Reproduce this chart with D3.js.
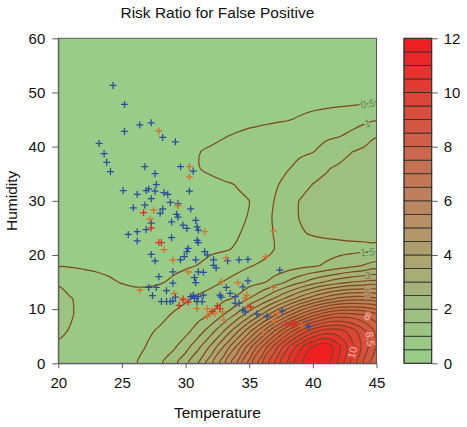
<!DOCTYPE html>
<html><head><meta charset="utf-8">
<script src="https://cdn.jsdelivr.net/npm/d3@7"></script>
<style>
body{margin:0;background:#fff;}
text{font-family:"Liberation Sans",Arial,Helvetica,sans-serif;}
</style></head><body>
<svg id="chart" width="467" height="427"></svg>
<script>
// ---------------- DATA ----------------
const chartTitle = "Risk Ratio for False Positive";
const xTitle = "Temperature";
const yTitle = "Humidity";
const temperatureCols = [20,21,22,23,24,25,26,27,28,29,30,31,32,33,34,35,36,37,38,39,40,41,42,43,44,45];
const humidityRows = [0,3,6,9,12,15,18,21,24,27,30,33,36,39,42,45,48,51,54,57,60];
// estimated risk ratio, one row per humidity value, one column per temperature value
const riskGrid = [
 [0.80,0.78,0.76,0.75,0.76,0.84,0.96,1.15,1.43,1.82,2.34,3.02,3.87,4.87,6.01,7.21,8.42,9.56,10.6,11.4,11.9,11.8,10.9,9.9,8.9,8.0],
 [0.95,0.90,0.85,0.80,0.80,0.80,0.85,1.03,1.17,1.40,1.81,2.39,3.12,4.04,5.09,6.30,7.52,8.75,9.9,10.9,11.6,11.9,11.2,10.2,9.3,8.45],
 [1.05,0.98,0.90,0.83,0.80,0.80,0.83,0.93,1.06,1.20,1.34,1.74,2.28,2.98,3.83,4.81,5.88,7.00,8.07,9.03,9.8,10.2,10.2,9.8,9.1,8.35],
 [1.10,1.02,0.92,0.85,0.78,0.73,0.72,0.78,0.88,1.03,1.17,1.30,1.53,2.00,2.57,3.27,4.04,4.89,5.76,6.58,7.30,7.85,8.17,8.15,8.00,7.65],
 [1.08,1.01,0.92,0.83,0.75,0.68,0.62,0.64,0.70,0.82,0.93,1.08,1.23,1.38,1.56,2.00,2.48,3.03,3.61,4.20,4.75,5.21,5.55,5.74,5.74,5.55],
 [0.97,0.85,0.72,0.63,0.55,0.48,0.45,0.44,0.47,0.55,0.64,0.74,0.86,1.02,1.16,1.29,1.42,1.70,2.05,2.40,2.75,3.05,3.30,3.50,3.60,3.65],
 [0.46,0.46,0.44,0.42,0.40,0.38,0.37,0.37,0.39,0.42,0.46,0.51,0.62,0.73,0.85,0.97,1.07,1.16,1.25,1.35,1.44,1.56,1.72,1.88,2.04,2.20],
 [0.30,0.30,0.30,0.30,0.30,0.30,0.31,0.32,0.33,0.35,0.38,0.41,0.44,0.47,0.53,0.69,0.84,1.01,1.13,1.22,1.28,1.32,1.35,1.37,1.38,1.38],
 [0.30,0.30,0.30,0.30,0.30,0.30,0.30,0.30,0.30,0.33,0.35,0.38,0.41,0.44,0.47,0.57,0.80,1.03,1.24,1.46,1.54,1.58,1.60,1.62,1.63,1.65],
 [0.30,0.30,0.30,0.30,0.30,0.30,0.30,0.30,0.30,0.31,0.33,0.36,0.39,0.43,0.46,0.51,0.78,1.06,1.35,1.52,1.57,1.62,1.66,1.71,1.75,1.80],
 [0.30,0.30,0.30,0.30,0.30,0.30,0.30,0.30,0.30,0.30,0.32,0.35,0.38,0.42,0.455,0.496,0.74,1.015,1.31,1.52,1.57,1.63,1.68,1.74,1.79,1.85],
 [0.30,0.30,0.30,0.30,0.30,0.30,0.30,0.30,0.30,0.32,0.35,0.38,0.42,0.46,0.51,0.66,0.80,0.94,1.125,1.33,1.51,1.58,1.65,1.71,1.78,1.85],
 [0.30,0.30,0.30,0.30,0.30,0.30,0.30,0.30,0.34,0.38,0.44,0.49,0.56,0.63,0.70,0.77,0.83,0.90,0.97,1.11,1.29,1.46,1.56,1.64,1.72,1.80],
 [0.30,0.30,0.30,0.30,0.30,0.30,0.30,0.30,0.33,0.36,0.42,0.49,0.545,0.60,0.66,0.71,0.77,0.83,0.88,0.94,0.99,1.16,1.33,1.49,1.60,1.70],
 [0.30,0.30,0.30,0.30,0.30,0.30,0.30,0.30,0.30,0.32,0.34,0.38,0.43,0.48,0.53,0.59,0.64,0.70,0.75,0.81,0.86,0.92,0.97,1.09,1.28,1.47],
 [0.30,0.30,0.30,0.30,0.30,0.30,0.30,0.30,0.30,0.30,0.33,0.34,0.35,0.36,0.38,0.40,0.42,0.45,0.48,0.54,0.61,0.68,0.75,0.81,0.88,0.95],
 [0.30,0.30,0.30,0.30,0.30,0.30,0.30,0.30,0.30,0.30,0.30,0.31,0.31,0.32,0.33,0.34,0.35,0.36,0.37,0.38,0.40,0.41,0.43,0.45,0.48,0.51],
 [0.30,0.30,0.30,0.30,0.30,0.30,0.30,0.30,0.30,0.30,0.30,0.30,0.30,0.30,0.30,0.30,0.30,0.30,0.30,0.31,0.32,0.34,0.35,0.37,0.39,0.42],
 [0.30,0.30,0.30,0.30,0.30,0.30,0.30,0.30,0.30,0.30,0.30,0.30,0.30,0.30,0.30,0.30,0.30,0.30,0.30,0.30,0.30,0.30,0.30,0.30,0.30,0.30],
 [0.30,0.30,0.30,0.30,0.30,0.30,0.30,0.30,0.30,0.30,0.30,0.30,0.30,0.30,0.30,0.30,0.30,0.30,0.30,0.30,0.30,0.30,0.30,0.30,0.30,0.30],
 [0.30,0.30,0.30,0.30,0.30,0.30,0.30,0.30,0.30,0.30,0.30,0.30,0.30,0.30,0.30,0.30,0.30,0.30,0.30,0.30,0.30,0.30,0.30,0.30,0.30,0.30]
];
const riskBreaks = [0,0.5,1,1.5,2,2.5,3,3.5,4,4.5,5,5.5,6,6.5,7,7.5,8,8.5,9,9.5,10,10.5,11,11.5,12];
const colorbarTicks = [0,2,4,6,8,10,12];
const temperatureTicks = [20,25,30,35,40,45];
const humidityTicks = [0,10,20,30,40,50,60];
// contour labels shown on the right side / near the peak
const edgeLabelLevels = [0.5,1,1.5,3,5,8];
const peakLabelLevels = [8.5,10];

// observations: [temperature, humidity]
const negativePoints = [
 [24.3,51.3],[25.2,47.8],[25.2,42.8],[26.4,44.0],[27.3,44.4],[28.2,41.7],[29.2,40.9],[23.2,40.6],[23.6,38.7],[23.8,37.1],
 [24.1,35.4],[26.8,36.3],[27.6,35.0],[29.6,36.3],[30.6,35.5],[27.7,33.0],[25.1,31.9],[26.2,31.2],[26.9,31.9],[27.1,32.2],
 [27.6,31.8],[28.3,31.5],[28.6,31.2],[30.3,31.8],[27.3,30.4],[25.9,28.7],[26.8,29.2],[28.2,28.5],[28.0,27.7],[28.8,29.7],
 [29.4,29.5],[30.4,28.5],[29.3,27.5],[29.4,27.0],[30.8,26.4],[27.3,25.9],[28.9,26.1],[29.8,25.5],[30.1,24.9],[30.9,25.2],
 [31.0,24.6],[25.5,23.8],[26.2,24.3],[26.2,22.6],[26.9,24.7],[28.9,23.2],[30.9,22.7],[31.0,22.3],[30.2,21.2],[30.1,20.6],
 [31.5,20.6],[31.7,20.0],[27.3,20.1],[27.6,18.9],[29.6,19.1],[29.9,19.7],[30.8,19.1],[32.2,18.1],[32.4,17.6],[29.0,16.9],
 [31.0,16.9],[31.4,16.8],[30.7,15.8],[27.9,16.0],[29.0,14.8],[30.8,14.9],[27.1,14.0],[27.7,14.0],[28.5,13.4],[27.4,12.5],
 [29.2,12.2],[28.1,11.4],[28.5,11.4],[28.8,11.4],[29.0,11.5],[30.4,12.3],[30.6,12.6],[30.7,12.0],[31.0,12.3],[31.4,12.6],
 [31.3,11.4],[30.9,11.4],[32.7,12.6],[32.8,12.2],[33.5,12.9],[33.9,12.3],[34.2,11.1],[33.9,11.1],[34.5,9.8],[34.7,9.5],
 [33.2,14.0],[34.9,15.2],[34.5,14.1],[32.2,19.1],[33.3,18.9],[34.2,19.1],[34.9,19.2],[37.4,17.2],[35.6,9.1],[36.4,8.7],
 [37.6,9.7],[39.7,6.8]
];
const positivePoints = [
 [27.9,42.9],[30.3,36.3],[30.3,34.4],[27.5,28.3],[29.4,29.1],[27.2,26.6],[31.5,24.3],[28.3,21.0],[29.0,19.1],[30.2,16.9],
 [26.4,13.5],[29.1,12.9],[29.8,12.0],[30.9,10.1],[31.7,10.1],[31.9,9.2],[32.3,9.2],[33.0,8.0],[34.9,10.4],[32.8,15.1],
 [34.1,14.9],[34.8,12.6],[34.7,12.0],[36.9,14.0],[33.2,19.4],[36.3,19.7],[36.9,24.5],[37.2,9.2],[37.0,7.9],[36.1,5.8],
 [39.1,6.9],[31.7,8.7],[32.9,9.5]
];
const strongPositivePoints = [
 [26.7,27.8],[27.3,25.0],[27.9,22.3],[28.1,22.3],[29.5,10.7],[32.5,10.6],[32.7,10.1],[35.1,10.4],[37.9,7.2],[38.4,7.4],
 [38.6,7.3],[29.8,11.7],[30.2,11.3],[32.1,9.6]
];

// ---------------- LAYOUT / STYLE ----------------
const svg = d3.select("#chart");
const plot = {left:58.3, right:376.5, top:38.3, bottom:363.3};
const bar = {left:404, right:431.7};
const x = d3.scaleLinear().domain([temperatureTicks[0], temperatureTicks[temperatureTicks.length-1]]).range([plot.left, plot.right]);
const y = d3.scaleLinear().domain([humidityTicks[0], humidityTicks[humidityTicks.length-1]]).range([plot.bottom, plot.top]);
const cScale = d3.scaleLinear().domain([riskBreaks[0], riskBreaks[riskBreaks.length-1]]).range([plot.bottom, plot.top]);
const nBands = riskBreaks.length - 1;
const colorInterp = d3.interpolateRgb("#98cc88", "#ee2024");
const bandColor = k => colorInterp(Math.pow(k / (nBands - 1), 1.25));
const lineColor = "#7e4518";
const fontStack = '"Liberation Sans",Arial,Helvetica,sans-serif';

svg.append("rect").attr("width",467).attr("height",427).attr("fill","#fff");

svg.append("defs").append("clipPath").attr("id","plotClip")
  .append("rect").attr("x",plot.left).attr("y",plot.top)
  .attr("width",plot.right-plot.left).attr("height",plot.bottom-plot.top);

const gPlot = svg.append("g").attr("clip-path","url(#plotClip)");
gPlot.append("rect").attr("x",plot.left).attr("y",plot.top)
  .attr("width",plot.right-plot.left).attr("height",plot.bottom-plot.top)
  .attr("fill", bandColor(0));

// ---------------- CONTOURS ----------------
const nCols = temperatureCols.length, nRows = humidityRows.length;
const tStep = temperatureCols[1]-temperatureCols[0];
const hStep = humidityRows[1]-humidityRows[0];
const thresholds = riskBreaks.slice(1, -1);
const contourSets = d3.contours().size([nCols, nRows]).thresholds(thresholds)(riskGrid.flat());
const gx = c => x(temperatureCols[0] + (c - 0.5) * tStep);
const gy = r => y(humidityRows[0] + (r - 0.5) * hStep);
const ringLine = d3.line().x(p => gx(p[0])).y(p => gy(p[1])).curve(d3.curveCatmullRomClosed.alpha(0.5));
const geomPath = g => g.coordinates.map(poly => poly.map(ring => ringLine(ring.slice(0, -1))).join("")).join("");

contourSets.forEach((c, i) => {
  gPlot.append("path").attr("d", geomPath(c)).attr("fill", bandColor(i + 1)).attr("fill-rule","evenodd").attr("stroke","none");
});
contourSets.forEach(c => {
  gPlot.append("path").attr("d", geomPath(c)).attr("fill","none")
    .attr("stroke", lineColor).attr("stroke-width", 1.2).attr("stroke-linejoin","round");
});

// ---------------- CONTOUR LABELS ----------------
function fieldAt(T, Hm) {
  T = Math.max(temperatureCols[0], Math.min(temperatureCols[nCols-1], T));
  Hm = Math.max(humidityRows[0], Math.min(humidityRows[nRows-1], Hm));
  const fx = (T - temperatureCols[0]) / tStep, fy = (Hm - humidityRows[0]) / hStep;
  const i = Math.min(nCols - 2, Math.floor(fx)), j = Math.min(nRows - 2, Math.floor(fy));
  const u = fx - i, v = fy - j, g = riskGrid;
  return g[j][i]*(1-u)*(1-v) + g[j][i+1]*u*(1-v) + g[j+1][i]*(1-u)*v + g[j+1][i+1]*u*v;
}
function crossColumn(level, T, fromTop) {
  const hs = d3.range(humidityRows[0], humidityRows[nRows-1] + 1e-6, 0.05);
  if (fromTop) hs.reverse();
  let prev = fieldAt(T, hs[0]) - level;
  for (let k = 1; k < hs.length; k++) {
    const cur = fieldAt(T, hs[k]) - level;
    if ((prev < 0) !== (cur < 0)) return hs[k];
    prev = cur;
  }
  return null;
}
function crossRow(level, Hm) {
  const ts = d3.range(temperatureCols[0], temperatureCols[nCols-1] + 1e-6, 0.05).reverse();
  let prev = fieldAt(ts[0], Hm) - level;
  for (let k = 1; k < ts.length; k++) {
    const cur = fieldAt(ts[k], Hm) - level;
    if ((prev < 0) !== (cur < 0)) return ts[k];
    prev = cur;
  }
  return null;
}
function tangentAngle(T, Hm) {
  const d = 0.3, e = 0.6;
  const fx = (fieldAt(T+d,Hm) - fieldAt(T-d,Hm)) / (x(T+d) - x(T-d));
  const fy = (fieldAt(T,Hm+e) - fieldAt(T,Hm-e)) / (y(Hm+e) - y(Hm-e));
  let a = Math.atan2(-fx, fy) * 180 / Math.PI;
  if (a > 90) a -= 180;
  if (a < -90) a += 180;
  return a;
}
const labelSpots = [];
const edgeT = 44.3;
edgeLabelLevels.forEach(lv => {
  const h = crossColumn(lv, edgeT, lv <= 1);
  if (h !== null) labelSpots.push({lv, T: edgeT, H: h});
});
peakLabelLevels.forEach((lv, k) => {
  const hRow = k === 0 ? 4.5 : 2;
  const t = crossRow(lv, hRow);
  if (t !== null) labelSpots.push({lv, T: Math.min(t, 44.5), H: hRow});
});
const gLab = svg.append("g").attr("clip-path","url(#plotClip)");
labelSpots.forEach(s => {
  const v = fieldAt(s.T, s.H);
  const k = Math.max(0, Math.min(nBands-1, Math.floor(v / (riskBreaks[1]-riskBreaks[0]))));
  const fill = s.lv < 2 ? "#5a8a52" : (s.lv < 6 ? "#8d6a52" : "#f3b9a8");
  gLab.append("text")
    .attr("transform", `translate(${x(s.T)},${y(s.H)}) rotate(${tangentAngle(s.T, s.H)})`)
    .attr("text-anchor","middle").attr("dy","0.35em")
    .attr("font-size", 10.5).attr("fill", fill)
    .attr("stroke", bandColor(k)).attr("stroke-width", 2.6).attr("paint-order","stroke")
    .text(String(s.lv));
});

// ---------------- POINTS ----------------
const armLen = 3.5;
function plusPath(pts) {
  const p = d3.path();
  pts.forEach(d => {
    const px = x(d[0]), py = y(d[1]);
    p.moveTo(px - armLen, py); p.lineTo(px + armLen, py);
    p.moveTo(px, py - armLen); p.lineTo(px, py + armLen);
  });
  return p.toString();
}
[[negativePoints, "#2b4c9b"], [positivePoints, "#d4712d"], [strongPositivePoints, "#dc2b24"]].forEach(([pts, col]) => {
  svg.append("path").attr("d", plusPath(pts)).attr("fill","none").attr("stroke", col).attr("stroke-width", 1.25);
});

// ---------------- FRAME & AXES ----------------
svg.append("rect").attr("x",plot.left).attr("y",plot.top)
  .attr("width",plot.right-plot.left).attr("height",plot.bottom-plot.top)
  .attr("fill","none").attr("stroke","#5a5a5a").attr("stroke-width",1);

function styleAxis(g) {
  g.selectAll(".domain").attr("stroke","#5a5a5a");
  g.selectAll(".tick line").attr("stroke","#5a5a5a");
  g.selectAll(".tick text").attr("font-size",15).attr("fill","#111").attr("font-family",fontStack);
}
const gx0 = svg.append("g").attr("transform",`translate(0,${plot.bottom})`)
  .call(d3.axisBottom(x).tickValues(temperatureTicks).tickSize(5).tickPadding(9).tickSizeOuter(0));
styleAxis(gx0);
const gy0 = svg.append("g").attr("transform",`translate(${plot.left},0)`)
  .call(d3.axisLeft(y).tickValues(humidityTicks).tickSize(6).tickPadding(7).tickSizeOuter(0));
styleAxis(gy0);

// ---------------- COLORBAR ----------------
const gBar = svg.append("g");
d3.range(nBands).forEach(k => {
  gBar.append("rect").attr("x",bar.left).attr("width",bar.right-bar.left)
    .attr("y", cScale(riskBreaks[k+1])).attr("height", cScale(riskBreaks[k]) - cScale(riskBreaks[k+1]))
    .attr("fill", bandColor(k)).attr("stroke","#2a2a2a").attr("stroke-width",0.8);
});
gBar.append("rect").attr("x",bar.left).attr("width",bar.right-bar.left)
  .attr("y", plot.top).attr("height", plot.bottom-plot.top)
  .attr("fill","none").attr("stroke","#333").attr("stroke-width",1);
const gc = svg.append("g").attr("transform",`translate(${bar.right},0)`)
  .call(d3.axisRight(cScale).tickValues(colorbarTicks).tickSize(6).tickPadding(6).tickSizeOuter(0));
gc.select(".domain").remove();
styleAxis(gc);

// ---------------- TITLES ----------------
const midX = (plot.left + plot.right) / 2;
svg.append("text").attr("x", midX).attr("y", 17.5).attr("text-anchor","middle")
  .attr("font-size",15.5).attr("fill","#111").text(chartTitle);
svg.append("text").attr("x", midX).attr("y", 418).attr("text-anchor","middle")
  .attr("font-size",15.5).attr("fill","#111").text(xTitle);
svg.append("text").attr("transform",`translate(17,${(plot.top+plot.bottom)/2}) rotate(-90)`)
  .attr("text-anchor","middle").attr("font-size",15.5).attr("fill","#111").text(yTitle);
</script>
</body></html>
